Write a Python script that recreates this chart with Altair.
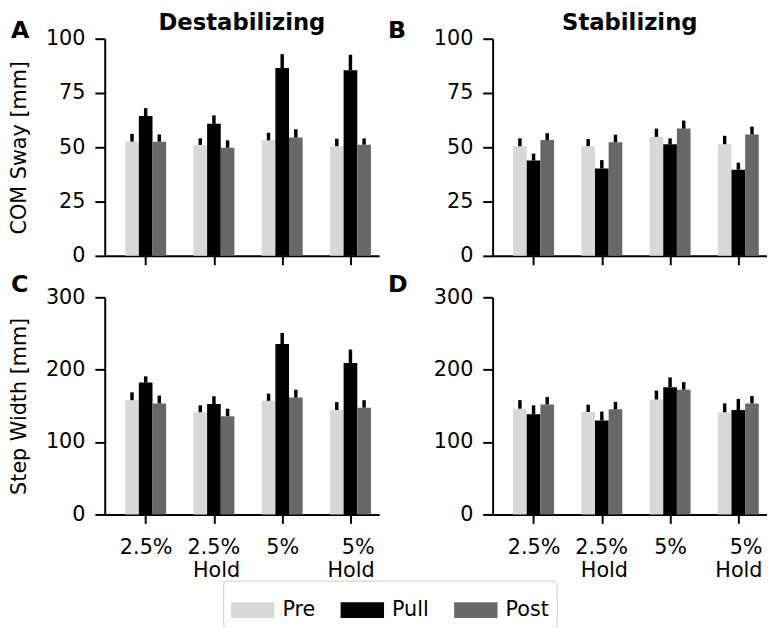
import json
import pandas as pd
import altair as alt

FONT = "DejaVu Sans"

categories = ["2.5%", "2.5% Hold", "5%", "5% Hold"]
tick_labels = [["2.5%"], ["2.5%", "Hold"], ["5%"], ["5%", "Hold"]]
conditions = ["Pre", "Pull", "Post"]
colors = ["#d8d8d8", "#000000", "#686868"]
panels = ["A", "B", "C", "D"]
column_titles = ["Destabilizing", "Stabilizing"]
row_titles = ["COM Sway [mm]", "Step Width [mm]"]

# A: COM sway, destabilizing
a_pre = [52.6, 51.1, 53.2, 50.5]
a_pull = [64.4, 60.8, 86.5, 85.5]
a_post = [52.6, 49.8, 54.5, 51.2]
a_pre_err = [3.6, 3.0, 3.5, 3.4]
a_pull_err = [3.6, 3.9, 6.4, 7.1]
a_post_err = [3.3, 3.4, 3.8, 2.9]

# B: COM sway, stabilizing
b_pre = [50.5, 50.5, 54.8, 51.4]
b_pull = [43.9, 40.2, 51.4, 39.7]
b_post = [53.3, 52.3, 58.6, 55.9]
b_pre_err = [3.6, 3.3, 3.8, 3.9]
b_pull_err = [3.2, 3.9, 2.7, 3.2]
b_post_err = [3.2, 3.5, 3.7, 3.6]

# C: step width, destabilizing
c_pre = [157.9, 141.2, 157.0, 144.3]
c_pull = [182.2, 152.5, 235.5, 209.3]
c_post = [153.4, 135.8, 161.5, 147.5]
c_pre_err = [10.8, 9.5, 9.9, 10.9]
c_pull_err = [8.6, 10.8, 15.3, 18.5]
c_post_err = [10.8, 10.3, 10.8, 10.4]

# D: step width, stabilizing
d_pre = [146.1, 141.6, 158.8, 141.2]
d_pull = [138.5, 129.9, 175.9, 144.3]
d_post = [152.0, 145.2, 172.3, 153.4]
d_pre_err = [11.8, 10.0, 12.2, 12.2]
d_pull_err = [12.2, 12.2, 13.5, 15.4]
d_post_err = [10.4, 10.4, 10.4, 10.3]

means = {
    "A": [a_pre, a_pull, a_post],
    "B": [b_pre, b_pull, b_post],
    "C": [c_pre, c_pull, c_post],
    "D": [d_pre, d_pull, d_post],
}
errs = {
    "A": [a_pre_err, a_pull_err, a_post_err],
    "B": [b_pre_err, b_pull_err, b_post_err],
    "C": [c_pre_err, c_pull_err, c_post_err],
    "D": [d_pre_err, d_pull_err, d_post_err],
}

rows = []
for p in panels:
    for si, s in enumerate(conditions):
        for ci, c in enumerate(categories):
            rows.append(dict(panel=p, cond=s, si=si, ci=ci, cat=c,
                             mean=means[p][si][ci], err=errs[p][si][ci]))
df = pd.DataFrame(rows)

label_expr = json.dumps(tick_labels) + "[datum.value]"

W, H = 278, 220


def panel(idx):
    p = panels[idx]
    row, col = divmod(idx, 2)
    if row == 0:
        ydom, yvals = [0, 100], [0, 25, 50, 75, 100]
    else:
        ydom, yvals = [0, 300], [0, 100, 200, 300]

    base = alt.Chart(df).transform_filter(alt.datum.panel == p).transform_calculate(
        xc="datum.ci + (datum.si - 1) * 0.2",
        x0="datum.ci + (datum.si - 1) * 0.2 - 0.1",
        x1="datum.ci + (datum.si - 1) * 0.2 + 0.1",
        hi="datum.mean + datum.err",
        zero="0",
    )
    if row == 1:
        xaxis = alt.Axis(values=[0, 1, 2, 3], labelExpr=label_expr, labelPadding=14,
                         labelLineHeight=23, labelBaseline="top",
                         labelAlign=alt.expr("datum.value % 2 == 1 ? 'right' : 'center'"),
                         labelOffset=alt.expr("datum.value == 1 ? 26 : datum.value == 3 ? 24 : 0"),
                         tickSize=9, title=None)
    else:
        xaxis = alt.Axis(values=[0, 1, 2, 3], labels=False, tickSize=9, title=None)
    xscale = alt.Scale(domain=[-0.6, 3.42], nice=False, zero=False)
    yscale = alt.Scale(domain=ydom, nice=False)
    ytitle = row_titles[row] if col == 0 else None
    if ytitle:
        yaxis = alt.Axis(values=yvals, title=ytitle, titlePadding=16, labelPadding=10, tickSize=10)
    else:
        yaxis = alt.Axis(values=yvals, title=None, labelPadding=10, tickSize=10)

    bars = base.mark_rect(opacity=1, strokeWidth=0).encode(
        x=alt.X("x0:Q", scale=xscale, axis=xaxis),
        x2="x1:Q",
        y=alt.Y("mean:Q", scale=yscale, axis=yaxis),
        y2="zero:Q",
        color=alt.Color("cond:N", scale=alt.Scale(domain=conditions, range=colors),
                        legend=alt.Legend(title=None)),
    )
    errbars = base.mark_rule(color="black", strokeWidth=3.5).encode(
        x=alt.X("xc:Q", scale=xscale, axis=xaxis),
        y=alt.Y("hi:Q", scale=yscale, axis=yaxis),
        y2="mean:Q",
    )
    lx = -95 if col == 0 else -106
    ly = -1 if row == 0 else -5
    letter = alt.Chart(pd.DataFrame({"t": [p]})).mark_text(
        align="left", baseline="alphabetic", fontSize=24, fontWeight="bold",
        font=FONT, color="black").encode(text="t:N", x=alt.value(lx), y=alt.value(ly))
    layers = [bars, errbars, letter]
    if row == 0:
        ttl = alt.Chart(pd.DataFrame({"t": [column_titles[col]]})).mark_text(
            align="center", baseline="alphabetic", fontSize=23, fontWeight="bold",
            font=FONT, color="black").encode(text="t:N", x=alt.value(W / 2), y=alt.value(-9))
        layers.append(ttl)
    return alt.layer(*layers).properties(width=W, height=H)


chart = alt.concat(panel(0), panel(1), panel(2), panel(3), columns=2,
                   spacing={"row": 42, "column": 115}, bounds="flush").properties(
    padding={"left": 0, "top": 0, "right": 0, "bottom": 0}
).configure_view(stroke=None).configure_axis(
    domainColor="black", domainWidth=2, tickColor="black", tickWidth=2,
    labelFont=FONT, labelFontSize=21, labelColor="black",
    titleFont=FONT, titleFontSize=21, titleFontWeight="normal", titleColor="black",
    grid=False,
).configure_legend(
    orient="none", legendX=120, legendY=549, direction="horizontal",
    symbolType="M-1,-0.3636 L1,-0.3636 L1,0.3636 L-1,0.3636 Z",
    symbolSize=1936, symbolStrokeWidth=0, symbolOpacity=1,
    labelFont=FONT, labelFontSize=21, labelColor="black", labelOffset=8,
    columnPadding=25, padding=8, strokeColor="#cccccc", cornerRadius=4,
    fillColor="white",
)

chart.save("out.html", embed_options={"renderer": "svg", "actions": False})
